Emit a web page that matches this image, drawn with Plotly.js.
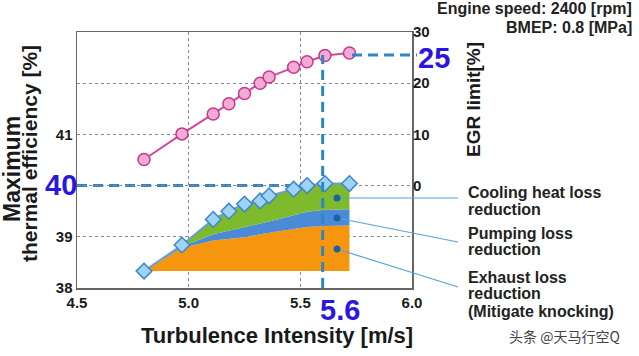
<!DOCTYPE html>
<html>
<head>
<meta charset="utf-8">
<script src="https://cdn.plot.ly/plotly-3.0.1.min.js"></script>
<style>html,body{margin:0;padding:0;background:#fff;}#chart{width:639px;height:356px;}</style>
</head>
<body>
<div id="chart"></div>
<script>
// ---- data ----
const turbulence = [4.80, 4.97, 5.11, 5.18, 5.25, 5.32, 5.36, 5.47, 5.53, 5.61, 5.72];
const egrLimit   = [5.1, 10.1, 14.0, 16.0, 18.0, 20.0, 21.2, 23.1, 24.2, 25.4, 25.9];
const thermalEff = [38.33, 38.84, 39.34, 39.50, 39.64, 39.70, 39.80, 39.93, 40.00, 40.04, 40.04];
const exhaustTop = [38.33, 38.78, 38.93, 38.96, 38.99, 39.05, 39.08, 39.15, 39.19, 39.21, 39.22];
const pumpingTop = [38.33, 38.81, 39.05, 39.12, 39.18, 39.26, 39.30, 39.42, 39.49, 39.53, 39.54];
const baseEff = 38.33;
const xTicks = [4.5, 5.0, 5.5, 6.0];
const xTickText = ['4.5', '5.0', '5.5', '6.0'];
const yTicks = [38, 39, 40, 41, 42];
const yTickText = ['38', '39', '', '41', ''];
const y2Ticks = [0, 10, 20, 30];
const highlightX = 5.6, highlightEff = 40, highlightEgr = 25.5;

const FONT = 'Liberation Sans, Arial, sans-serif';
const BLUE_TXT = '#2A16DE';
const DASH = '#2E86C8';

const baseline = turbulence.map(() => baseEff);

const traces = [
  {x: turbulence, y: baseline, mode: 'lines', line: {width: 0}, hoverinfo: 'skip', showlegend: false},
  {x: turbulence, y: exhaustTop, mode: 'lines', line: {width: 0}, fill: 'tonexty', fillcolor: '#F6960E', showlegend: false},
  {x: turbulence, y: pumpingTop, mode: 'lines', line: {width: 0}, fill: 'tonexty', fillcolor: '#4B8AD6', showlegend: false},
  {x: turbulence, y: thermalEff, mode: 'lines', line: {width: 0}, fill: 'tonexty', fillcolor: '#7EBB2C', showlegend: false},
  {x: turbulence, y: thermalEff, mode: 'lines+markers', showlegend: false,
   line: {color: '#6A9ED2', width: 2},
   marker: {symbol: 'diamond', size: 12, color: '#9DD4F6', line: {color: '#3F86C6', width: 1.5}}},
  {x: turbulence, y: egrLimit, yaxis: 'y2', mode: 'lines+markers', showlegend: false,
   line: {color: '#D4479C', width: 2},
   marker: {symbol: 'circle', size: 12, color: '#F4AAD6', line: {color: '#C33A8D', width: 1.5}}}
];

const L = 77, T = 32, PW = 335, PH = 256;
const px = v => (v - L) / PW;
const py = v => (T + PH - v) / PH;

const bold = (size, color) => ({family: FONT, size: size, color: color || '#1a1a1a', weight: 'bold'});
function ann(text, xp, yp, opts) {
  return Object.assign({text: text, x: xp, y: yp, xref: 'paper', yref: 'paper', showarrow: false,
    xanchor: 'center', yanchor: 'middle', font: bold(16, '#222')}, opts || {});
}

const annotations = [
  ann('Maximum', px(12), py(169), {textangle: -90, font: bold(23)}),
  ann('thermal efficiency [%]', px(29), py(154), {textangle: -90, font: bold(21)}),
  ann('EGR limit[%]', px(473), py(100), {textangle: -90, font: bold(19)}),
  ann('Turbulence Intensity [m/s]', px(277), py(335), {font: bold(22)}),
  ann('40', px(61), py(185), {font: bold(29, BLUE_TXT)}),
  ann('25', px(434), py(58), {font: bold(29, BLUE_TXT)}),
  ann('5.6', px(340), py(310), {font: bold(29, BLUE_TXT)}),
  ann('Engine speed: 2400 [rpm]', px(634), py(8), {xanchor: 'right', font: bold(16, '#222')}),
  ann('BMEP: 0.8 [MPa]', px(634), py(27), {xanchor: 'right', font: bold(16, '#222')}),
  ann('Cooling heat loss', px(466), py(192), {xanchor: 'left'}),
  ann('reduction', px(466), py(209), {xanchor: 'left'}),
  ann('Pumping loss', px(466), py(233), {xanchor: 'left'}),
  ann('reduction', px(466), py(249), {xanchor: 'left'}),
  ann('Exhaust loss', px(466), py(277), {xanchor: 'left'}),
  ann('reduction', px(466), py(293), {xanchor: 'left'}),
  ann('(Mitigate knocking)', px(466), py(311), {xanchor: 'left'}),
  ann('头条 @天马行空Q', px(564), py(336), {font: {family: 'Noto Sans CJK SC, sans-serif', size: 14, color: '#444'}})
];

function leader(x0, y0, x1, y1) {
  return {type: 'line', xref: 'paper', yref: 'paper', x0: px(x0), y0: py(y0), x1: px(x1), y1: py(y1),
          line: {color: '#5AA2D6', width: 1.2}, layer: 'above'};
}
function dot(x, y) {
  return {type: 'circle', xref: 'paper', yref: 'paper', xsizemode: 'pixel', ysizemode: 'pixel',
          xanchor: px(x), yanchor: py(y), x0: -3.5, x1: 3.5, y0: -3.5, y1: 3.5,
          fillcolor: '#1B62A8', line: {width: 0}, layer: 'above'};
}

const shapes = [
  {type: 'line', xref: 'x', yref: 'y', x0: 4.5, x1: highlightX, y0: highlightEff, y1: highlightEff,
   line: {color: DASH, width: 3, dash: '10px,6px'}, layer: 'below'},
  {type: 'line', xref: 'x', yref: 'y2', x0: highlightX, x1: highlightX, y0: -20, y1: highlightEgr,
   line: {color: DASH, width: 3, dash: '10px,6px'}, layer: 'above'},
  {type: 'line', xref: 'paper', yref: 'y2', x0: px(352), x1: px(417), y0: highlightEgr, y1: highlightEgr,
   line: {color: DASH, width: 3, dash: '10px,6px'}, layer: 'above'},
  leader(337, 198, 458, 198), leader(337, 218, 458, 242), leader(337, 249, 458, 287),
  dot(337, 198), dot(337, 218), dot(337, 249)
];

const layout = {
  width: 639, height: 356,
  margin: {l: L, r: 639 - L - PW, t: T, b: 356 - T - PH, pad: 0},
  paper_bgcolor: '#ffffff', plot_bgcolor: '#ffffff',
  showlegend: false,
  xaxis: {range: [4.5, 6.0], tickvals: xTicks, ticktext: xTickText, showgrid: true,
          gridcolor: '#8a8a8a', griddash: 'dot', gridwidth: 1, zeroline: false,
          showline: true, linecolor: '#666', linewidth: 1.5, mirror: true, ticks: '',
          tickfont: bold(15), fixedrange: true},
  yaxis: {range: [38, 43], tickvals: yTicks, ticktext: yTickText, showgrid: true,
          gridcolor: '#8a8a8a', griddash: 'dot', gridwidth: 1, zeroline: false,
          showline: true, linecolor: '#666', linewidth: 1.5, mirror: true, ticks: '',
          tickfont: bold(15)},
  yaxis2: {range: [-20, 30], overlaying: 'y', side: 'right', tickvals: y2Ticks,
           showgrid: false, zeroline: false, showline: false, ticks: '', tickfont: bold(15)},
  annotations: annotations,
  shapes: shapes
};

Plotly.newPlot('chart', traces, layout, {staticPlot: true, displayModeBar: false});
</script>
</body>
</html>
